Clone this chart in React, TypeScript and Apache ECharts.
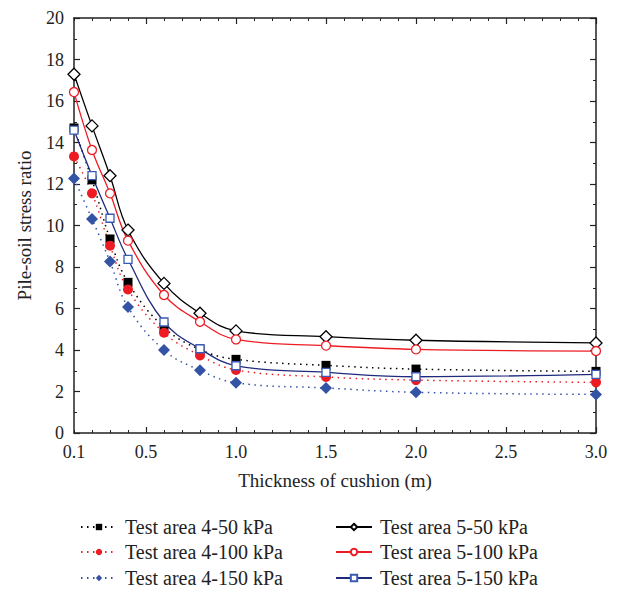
import React, { useEffect, useRef } from "react";
import * as echarts from "echarts";

const thickness = [0.1, 0.2, 0.3, 0.4, 0.6, 0.8, 1.0, 1.5, 2.0, 3.0];
const area4_50 = [14.7, 12.2, 9.35, 7.26, 5.09, 4.02, 3.55, 3.26, 3.08, 2.97];
const area4_100 = [13.33, 11.55, 9.03, 6.92, 4.83, 3.74, 3.04, 2.7, 2.55, 2.44];
const area4_150 = [12.26, 10.31, 8.26, 6.07, 4.0, 3.02, 2.42, 2.17, 1.96, 1.86];
const area5_50 = [17.29, 14.8, 12.4, 9.78, 7.21, 5.77, 4.92, 4.64, 4.47, 4.34];
const area5_100 = [16.43, 13.64, 11.55, 9.27, 6.65, 5.36, 4.51, 4.21, 4.03, 3.95];
const area5_150 = [14.6, 12.4, 10.35, 8.37, 5.35, 4.06, 3.24, 2.92, 2.71, 2.83];

const seriesNames = [
  "Test area 4-50 kPa",
  "Test area 4-100 kPa",
  "Test area 4-150 kPa",
  "Test area 5-50 kPa",
  "Test area 5-100 kPa",
  "Test area 5-150 kPa",
];
const xMajorTicks = [0.5, 1.0, 1.5, 2.0, 2.5, 3.0];
const xTickLabels = [0.1, 0.5, 1.0, 1.5, 2.0, 2.5, 3.0];

const FONT = "'Liberation Serif', 'DejaVu Serif', serif";
const AX = "#222";

export default function App() {
  const ref = useRef<HTMLDivElement>(null);
  useEffect(() => {
    if (!ref.current) return;
    const chart = echarts.init(ref.current, undefined, { renderer: "svg" });
    const pair = (ys: number[]) => thickness.map((x, i) => [x, ys[i]]);
    const dotted = [1.5, 4.5];
    const red = "#ed1c24";
    const blue = "#3353a5";
    const navy = "#1f2a7c";

    const baseX = {
      type: "value" as const,
      min: 0.1,
      max: 3.0,
      splitLine: { show: false },
    };
    const baseY = {
      type: "value" as const,
      min: 0,
      max: 20,
      interval: 2,
      splitLine: { show: false },
    };

    const legendLefts = [75, 75, 75, 330, 330, 330];
    const legendTops = [512, 537, 563, 512, 537, 563];
    const legends = seriesNames.map((n, i) => ({
      data: [n],
      orient: "horizontal",
      left: legendLefts[i],
      top: legendTops[i],
      itemWidth: 36,
      itemHeight: 8,
      textStyle: { fontFamily: FONT, fontSize: 20, color: "#222", padding: [0, 0, 0, 3] },
    }));

    chart.setOption({
      animation: false,
      backgroundColor: "#fff",
      grid: { left: 74, right: 24, top: 18, bottom: 159 },
      xAxis: [
        {
          ...baseX,
          position: "bottom",
          axisLine: { show: true, lineStyle: { color: AX, width: 1.5 } },
          axisTick: { inside: true, length: 6, customValues: xMajorTicks, lineStyle: { color: AX, width: 1.2 } },
          axisLabel: {
            customValues: xTickLabels,
            formatter: (v: number) => v.toFixed(1),
            fontFamily: FONT,
            fontSize: 18,
            color: "#222",
            margin: 10,
          },
          name: "Thickness of cushion (m)",
          nameLocation: "middle",
          nameGap: 38,
          nameTextStyle: { fontFamily: FONT, fontSize: 19, color: "#222" },
        },
        {
          ...baseX,
          position: "bottom",
          interval: 0.1,
          axisLine: { show: false },
          axisTick: { inside: true, length: 3, lineStyle: { color: AX, width: 1 } },
          axisLabel: { show: false },
        },
        {
          ...baseX,
          position: "top",
          axisLine: { show: true, lineStyle: { color: AX, width: 1.5 } },
          axisTick: { inside: true, length: 6, customValues: xMajorTicks, lineStyle: { color: AX, width: 1.2 } },
          axisLabel: { show: false },
        },
        {
          ...baseX,
          position: "top",
          interval: 0.1,
          axisLine: { show: false },
          axisTick: { inside: true, length: 3, lineStyle: { color: AX, width: 1 } },
          axisLabel: { show: false },
        },
      ],
      yAxis: [
        {
          ...baseY,
          position: "left",
          axisLine: { show: true, lineStyle: { color: AX, width: 1.5 } },
          axisTick: { inside: true, length: 6, lineStyle: { color: AX, width: 1.2 } },
          minorTick: { show: true, splitNumber: 2, length: 3, lineStyle: { color: AX, width: 1 } },
          axisLabel: { fontFamily: FONT, fontSize: 18, color: "#222", margin: 10 },
          name: "Pile-soil stress ratio",
          nameLocation: "middle",
          nameGap: 40,
          nameTextStyle: { fontFamily: FONT, fontSize: 19, color: "#222" },
        },
        {
          ...baseY,
          position: "right",
          axisLine: { show: true, lineStyle: { color: AX, width: 1.5 } },
          axisTick: { inside: true, length: 6, lineStyle: { color: AX, width: 1.2 } },
          minorTick: { show: true, splitNumber: 2, length: 3, lineStyle: { color: AX, width: 1 } },
          axisLabel: { show: false },
        },
      ],
      legend: legends,
      series: [
        {
          name: seriesNames[0],
          type: "line",
          data: pair(area4_50),
          smooth: 0.4,
          symbol: "rect",
          symbolSize: 9,
          itemStyle: { color: "#000" },
          lineStyle: { color: "#000", width: 1.5, type: dotted },
        },
        {
          name: seriesNames[1],
          type: "line",
          data: pair(area4_100),
          smooth: 0.4,
          symbol: "circle",
          symbolSize: 10,
          itemStyle: { color: red },
          lineStyle: { color: red, width: 1.5, type: dotted },
        },
        {
          name: seriesNames[2],
          type: "line",
          data: pair(area4_150),
          smooth: 0.4,
          symbol: "diamond",
          symbolSize: 12,
          itemStyle: { color: blue },
          lineStyle: { color: blue, width: 1.5, type: dotted },
        },
        {
          name: seriesNames[3],
          type: "line",
          data: pair(area5_50),
          smooth: 0.4,
          symbol: "diamond",
          symbolSize: 12,
          itemStyle: { color: "#fff", borderColor: "#000", borderWidth: 1.3 },
          lineStyle: { color: "#000", width: 1.3 },
        },
        {
          name: seriesNames[4],
          type: "line",
          data: pair(area5_100),
          smooth: 0.4,
          symbol: "circle",
          symbolSize: 9,
          itemStyle: { color: "#fff", borderColor: red, borderWidth: 1.3 },
          lineStyle: { color: red, width: 1.3 },
        },
        {
          name: seriesNames[5],
          type: "line",
          data: pair(area5_150),
          smooth: 0.4,
          symbol: "rect",
          symbolSize: 8,
          itemStyle: { color: "#fff", borderColor: "#3a5bb5", borderWidth: 1.3 },
          lineStyle: { color: navy, width: 1.3 },
        },
      ],
    });
    return () => chart.dispose();
  }, []);
  return (
    <div
      ref={ref}
      style={{ position: "fixed", left: 0, top: 0, width: 620, height: 592, background: "#fff" }}
    />
  );
}
